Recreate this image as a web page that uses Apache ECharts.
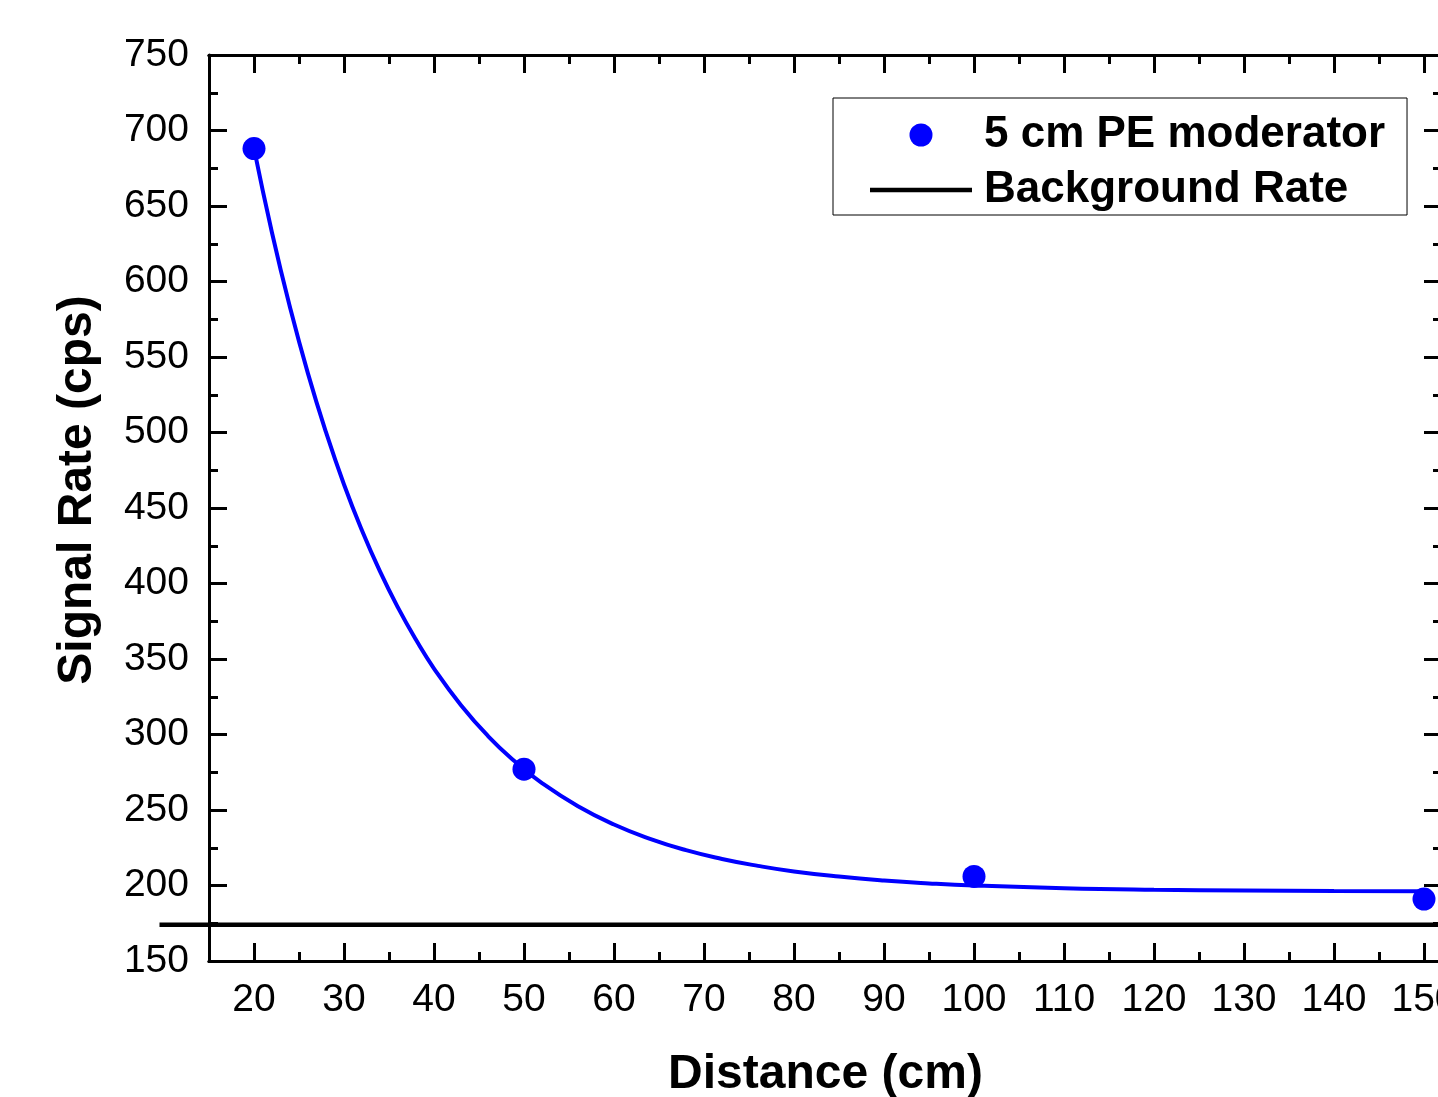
<!DOCTYPE html>
<html>
<head>
<meta charset="utf-8">
<script src="https://cdn.jsdelivr.net/npm/echarts@6/dist/echarts.min.js"></script>
<style>
html,body{margin:0;padding:0;background:#fff;}
#chart{width:1438px;height:1097px;}
</style>
</head>
<body>
<div id="chart"></div>
<script>
// ---- data ----
const distances = [20, 50, 100, 150];
const signalRates = [688, 277, 206, 191];

const fitX = [20, 22, 24, 26, 28, 30, 32, 34, 36, 38, 40, 43, 46, 49, 52, 56, 60, 64, 68, 72, 76, 80, 85, 90, 95, 100, 110, 120, 130, 140, 150];
const fitY = [688.1, 632.3, 582.9, 539.0, 500.2, 465.6, 435.1, 408.0, 384.0, 362.7, 343.7, 319.4, 299.0, 282.1, 267.8, 252.5, 240.4, 230.9, 223.4, 217.6, 213.0, 209.3, 205.9, 203.3, 201.4, 200.0, 198.2, 197.2, 196.7, 196.4, 196.2];

const backgroundRate = 174;
const backgroundX = [9.5, 152];

const xMajorTicks = [20, 30, 40, 50, 60, 70, 80, 90, 100, 110, 120, 130, 140, 150];
const xMinorTicks = [25, 35, 45, 55, 65, 75, 85, 95, 105, 115, 125, 135, 145];

const seriesName = '5 cm PE moderator';
const bgName = 'Background Rate';
const xTitle = 'Distance (cm)';
const yTitle = 'Signal Rate (cps)';

// ---- chart ----
const FONT = "'Liberation Sans', Arial, sans-serif";
const chart = echarts.init(document.getElementById('chart'), null, {renderer: 'canvas'});

const lineStyleAxis = {show: true, lineStyle: {color: '#000', width: 3}};
const xMin = 15, xMax = 152;
const PX_PER_X = 9;

function xAxisDef(pos, ticks, len, labels, name) {
  return {
    type: 'value', gridIndex: 0, position: pos, min: xMin, max: xMax,
    axisLine: lineStyleAxis,
    axisTick: {show: true, inside: true, length: len, customValues: ticks, lineStyle: {color: '#000', width: 3}},
    axisLabel: labels ? {show: true, customValues: xMajorTicks, color: '#000', fontFamily: FONT, fontSize: 39, margin: 20} : {show: false},
    splitLine: {show: false},
    name: name || '', nameLocation: 'middle', nameGap: 90,
    nameTextStyle: {color: '#000', fontFamily: FONT, fontSize: 48, fontWeight: 'bold'},
    nameMoveOverlap: false
  };
}

function yAxisDef(pos, labels, name) {
  return {
    type: 'value', gridIndex: 0, position: pos, min: 150, max: 750, interval: 50,
    axisLine: lineStyleAxis,
    axisTick: {show: true, inside: true, length: 18, lineStyle: {color: '#000', width: 3}},
    minorTick: {show: true, splitNumber: 2, length: 9, lineStyle: {color: '#000', width: 3}},
    axisLabel: labels ? {show: true, color: '#000', fontFamily: FONT, fontSize: 39, margin: 20} : {show: false},
    splitLine: {show: false}, minorSplitLine: {show: false},
    name: name || '', nameLocation: 'middle', nameGap: 107,
    nameTextStyle: {color: '#000', fontFamily: FONT, fontSize: 48, fontWeight: 'bold', padding: [0, 0, 0, 36]},
    nameMoveOverlap: false
  };
}

const gridLeft = 209;
const bgGridLeft = gridLeft - (xMin - backgroundX[0]) * PX_PER_X;
const bgGridWidth = (backgroundX[1] - backgroundX[0]) * PX_PER_X;

const option = {
  backgroundColor: '#fff',
  animation: false,
  grid: [
    {left: gridLeft, top: 55, width: (xMax - xMin) * PX_PER_X, height: 906, outerBoundsMode: 'none', containLabel: false},
    {left: bgGridLeft, top: 55, width: bgGridWidth, height: 906, outerBoundsMode: 'none', containLabel: false}
  ],
  xAxis: [
    xAxisDef('bottom', xMajorTicks, 18, true, xTitle),
    xAxisDef('bottom', xMinorTicks, 9, false),
    xAxisDef('top', xMajorTicks, 18, false),
    xAxisDef('top', xMinorTicks, 9, false),
    {type: 'value', gridIndex: 1, min: backgroundX[0], max: backgroundX[1], show: false, splitLine: {show: false}}
  ],
  yAxis: [
    yAxisDef('left', true, yTitle),
    yAxisDef('right', false),
    {type: 'value', gridIndex: 1, min: 150, max: 750, show: false, splitLine: {show: false}}
  ],
  legend: {
    data: [
      {name: seriesName, icon: 'circle'},
      {name: bgName, icon: 'path://M0,0L102,0L102,4.5L0,4.5Z'}
    ],
    orient: 'vertical',
    left: 833, top: 98,
    padding: [15, 22, 3, 37],
    itemGap: 11,
    itemWidth: 102, itemHeight: 23,
    borderColor: '#000', borderWidth: 1,
    textStyle: {color: '#000', fontFamily: FONT, fontSize: 44, fontWeight: 'bold', padding: [0, 0, 0, 7]},
    selectedMode: false
  },
  series: [
    {
      name: 'fit', type: 'line', xAxisIndex: 0, yAxisIndex: 0,
      data: fitX.map((x, i) => [x, fitY[i]]),
      smooth: 0.5, showSymbol: false, symbol: 'none',
      lineStyle: {color: '#0000ff', width: 4}, z: 3
    },
    {
      name: seriesName, type: 'scatter', xAxisIndex: 0, yAxisIndex: 0,
      data: distances.map((x, i) => [x, signalRates[i]]),
      symbol: 'circle', symbolSize: 23,
      itemStyle: {color: '#0000ff', opacity: 1}, z: 4, clip: false
    },
    {
      name: bgName, type: 'line', xAxisIndex: 4, yAxisIndex: 2,
      data: backgroundX.map(x => [x, backgroundRate]),
      symbol: 'none', showSymbol: false, clip: false,
      lineStyle: {color: '#000', width: 4.5}, itemStyle: {color: '#000'}, z: 2
    }
  ]
};
chart.setOption(option);
</script>
</body>
</html>
